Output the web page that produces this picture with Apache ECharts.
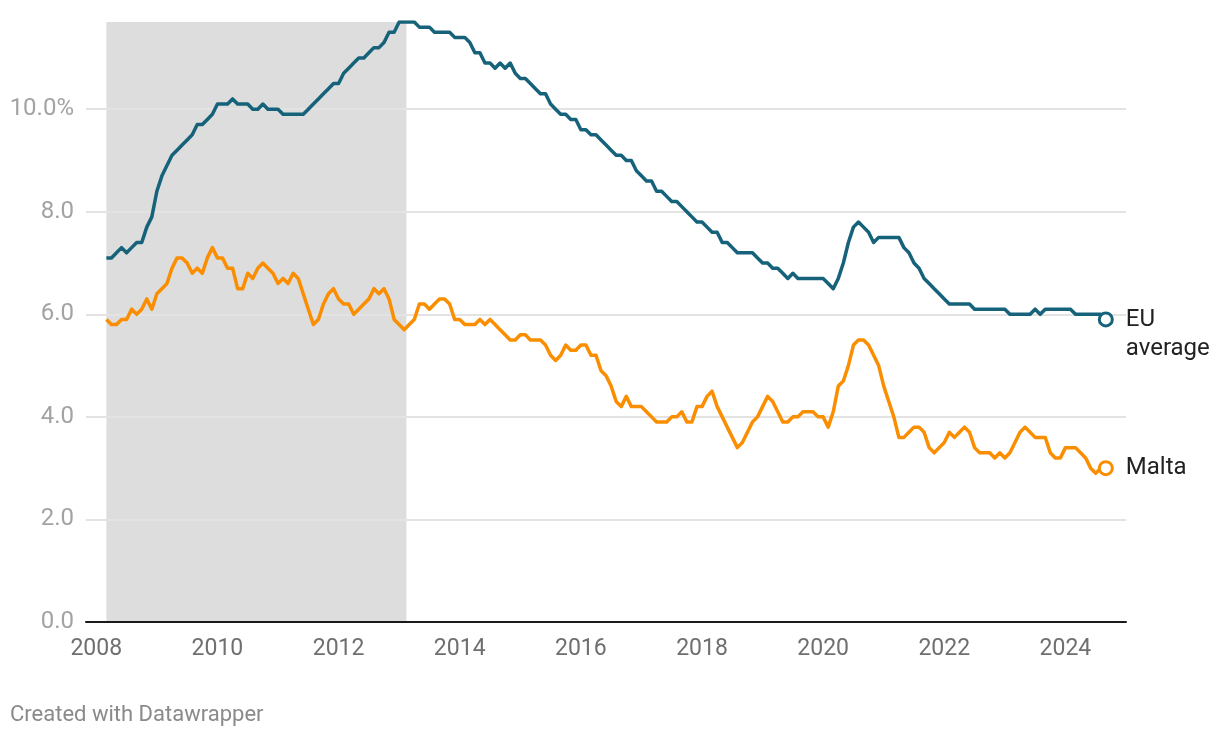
<!DOCTYPE html>
<html>
<head>
<meta charset="utf-8">
<script src="https://cdn.jsdelivr.net/npm/echarts@6/dist/echarts.min.js"></script>
<style>
  html, body { margin: 0; padding: 0; background: #ffffff; }
  #chart { width: 1220px; height: 738px; }
</style>
</head>
<body>
<div id="chart"></div>
<script>
// ---- data (monthly, Mar 2008 – Sep 2024) ----
const firstYear = 2008;
const firstMonth = 3;

const euAverage = [
  7.1, 7.1, 7.2, 7.3, 7.2, 7.3, 7.4, 7.4, 7.7, 7.9,
  8.4, 8.7, 8.9, 9.1, 9.2, 9.3, 9.4, 9.5, 9.7, 9.7,
  9.8, 9.9, 10.1, 10.1, 10.1, 10.2, 10.1, 10.1, 10.1, 10.0,
  10.0, 10.1, 10.0, 10.0, 10.0, 9.9, 9.9, 9.9, 9.9, 9.9,
  10.0, 10.1, 10.2, 10.3, 10.4, 10.5, 10.5, 10.7, 10.8, 10.9,
  11.0, 11.0, 11.1, 11.2, 11.2, 11.3, 11.5, 11.5, 11.7, 11.7,
  11.7, 11.7, 11.6, 11.6, 11.6, 11.5, 11.5, 11.5, 11.5, 11.4,
  11.4, 11.4, 11.3, 11.1, 11.1, 10.9, 10.9, 10.8, 10.9, 10.8,
  10.9, 10.7, 10.6, 10.6, 10.5, 10.4, 10.3, 10.3, 10.1, 10.0,
  9.9, 9.9, 9.8, 9.8, 9.6, 9.6, 9.5, 9.5, 9.4, 9.3,
  9.2, 9.1, 9.1, 9.0, 9.0, 8.8, 8.7, 8.6, 8.6, 8.4,
  8.4, 8.3, 8.2, 8.2, 8.1, 8.0, 7.9, 7.8, 7.8, 7.7,
  7.6, 7.6, 7.4, 7.4, 7.3, 7.2, 7.2, 7.2, 7.2, 7.1,
  7.0, 7.0, 6.9, 6.9, 6.8, 6.7, 6.8, 6.7, 6.7, 6.7,
  6.7, 6.7, 6.7, 6.6, 6.5, 6.7, 7.0, 7.4, 7.7, 7.8,
  7.7, 7.6, 7.4, 7.5, 7.5, 7.5, 7.5, 7.5, 7.3, 7.2,
  7.0, 6.9, 6.7, 6.6, 6.5, 6.4, 6.3, 6.2, 6.2, 6.2,
  6.2, 6.2, 6.1, 6.1, 6.1, 6.1, 6.1, 6.1, 6.1, 6.0,
  6.0, 6.0, 6.0, 6.0, 6.1, 6.0, 6.1, 6.1, 6.1, 6.1,
  6.1, 6.1, 6.0, 6.0, 6.0, 6.0, 6.0, 6.0, 5.9
];

const malta = [
  5.9, 5.8, 5.8, 5.9, 5.9, 6.1, 6.0, 6.1, 6.3, 6.1,
  6.4, 6.5, 6.6, 6.9, 7.1, 7.1, 7.0, 6.8, 6.9, 6.8,
  7.1, 7.3, 7.1, 7.1, 6.9, 6.9, 6.5, 6.5, 6.8, 6.7,
  6.9, 7.0, 6.9, 6.8, 6.6, 6.7, 6.6, 6.8, 6.7, 6.4,
  6.1, 5.8, 5.9, 6.2, 6.4, 6.5, 6.3, 6.2, 6.2, 6.0,
  6.1, 6.2, 6.3, 6.5, 6.4, 6.5, 6.3, 5.9, 5.8, 5.7,
  5.8, 5.9, 6.2, 6.2, 6.1, 6.2, 6.3, 6.3, 6.2, 5.9,
  5.9, 5.8, 5.8, 5.8, 5.9, 5.8, 5.9, 5.8, 5.7, 5.6,
  5.5, 5.5, 5.6, 5.6, 5.5, 5.5, 5.5, 5.4, 5.2, 5.1,
  5.2, 5.4, 5.3, 5.3, 5.4, 5.4, 5.2, 5.2, 4.9, 4.8,
  4.6, 4.3, 4.2, 4.4, 4.2, 4.2, 4.2, 4.1, 4.0, 3.9,
  3.9, 3.9, 4.0, 4.0, 4.1, 3.9, 3.9, 4.2, 4.2, 4.4,
  4.5, 4.2, 4.0, 3.8, 3.6, 3.4, 3.5, 3.7, 3.9, 4.0,
  4.2, 4.4, 4.3, 4.1, 3.9, 3.9, 4.0, 4.0, 4.1, 4.1,
  4.1, 4.0, 4.0, 3.8, 4.1, 4.6, 4.7, 5.0, 5.4, 5.5,
  5.5, 5.4, 5.2, 5.0, 4.6, 4.3, 4.0, 3.6, 3.6, 3.7,
  3.8, 3.8, 3.7, 3.4, 3.3, 3.4, 3.5, 3.7, 3.6, 3.7,
  3.8, 3.7, 3.4, 3.3, 3.3, 3.3, 3.2, 3.3, 3.2, 3.3,
  3.5, 3.7, 3.8, 3.7, 3.6, 3.6, 3.6, 3.3, 3.2, 3.2,
  3.4, 3.4, 3.4, 3.3, 3.2, 3.0, 2.9, 3.0, 3.0
];

const xTickLabels = [2008, 2010, 2012, 2014, 2016, 2018, 2020, 2022, 2024];
const yTickValues = [0, 2, 4, 6, 8, 10];
const shadeRange = [2008 + 2 / 12, 2013.12];
const seriesNames = ['EU average', 'Malta'];
const endLabelTexts = ['EU\naverage', 'Malta'];

// month positions (decimal years)
const dates = euAverage.map((_, i) => firstYear + (firstMonth - 1 + i) / 12);
const toPairs = arr => arr.map((v, i) => [dates[i], v]);

const EU_COLOR = '#15627a';
const MT_COLOR = '#fa8e00';
const FONT = 'Roboto, "Noto Sans", sans-serif';

function lineSeries(name, values, color, labelText, labelOffsetY, labelVAlign) {
  const last = values.length - 1;
  return {
    name: name,
    type: 'line',
    z: 5,
    data: toPairs(values),
    showSymbol: true,
    showAllSymbol: true,
    symbol: (val, params) => (params.dataIndex === last ? 'circle' : 'none'),
    symbolSize: 13,
    lineStyle: { color: color, width: 3.5, join: 'round' },
    itemStyle: { color: '#ffffff', borderColor: color, borderWidth: 3 },
    emphasis: { disabled: true },
    animation: false,
    endLabel: {
      show: true,
      formatter: labelText,
      color: '#222222',
      fontFamily: FONT,
      fontSize: 24,
      lineHeight: 29,
      distance: 20,
      verticalAlign: labelVAlign,
      offset: [0, labelOffsetY]
    }
  };
}

const chart = echarts.init(document.getElementById('chart'), null, { renderer: 'canvas' });

chart.setOption({
  backgroundColor: '#ffffff',
  animation: false,
  grid: { left: 86, right: 94, top: 22, bottom: 116, containLabel: false },
  xAxis: {
    type: 'value',
    min: 2007.83,
    max: 2025.0,
    z: 10,
    axisLine: { show: true, onZero: false, lineStyle: { color: '#1a1a1a', width: 2 } },
    axisTick: { show: false },
    splitLine: { show: false },
    axisLabel: {
      customValues: xTickLabels,
      color: '#6f6f6f',
      fontFamily: FONT,
      fontSize: 23,
      margin: 16,
      formatter: v => String(v)
    }
  },
  yAxis: {
    type: 'value',
    min: 0,
    max: 'dataMax',
    axisLine: { show: false },
    axisTick: { show: false },
    splitLine: { show: false },
    axisLabel: {
      customValues: yTickValues,
      color: '#a3a3a3',
      fontFamily: FONT,
      fontSize: 24,
      margin: 12,
      formatter: v => (v === yTickValues[yTickValues.length - 1] ? v.toFixed(1) + '%' : v.toFixed(1))
    }
  },
  series: [
    {
      name: 'shade',
      type: 'line',
      z: 1,
      data: [],
      silent: true,
      markArea: {
        silent: true,
        itemStyle: { color: '#dddddd' },
        data: [[{ xAxis: shadeRange[0] }, { xAxis: shadeRange[1] }]]
      }
    },
    {
      name: 'grid',
      type: 'line',
      z: 2,
      data: [],
      silent: true,
      markLine: {
        silent: true,
        symbol: ['none', 'none'],
        label: { show: false },
        lineStyle: { color: '#e3e3e3', width: 2, type: 'solid' },
        data: yTickValues.filter(v => v !== 0).map(v => ({ yAxis: v }))
      }
    },
    lineSeries(seriesNames[0], euAverage, EU_COLOR, endLabelTexts[0], -14, 'top'),
    lineSeries(seriesNames[1], malta, MT_COLOR, endLabelTexts[1], 0, 'middle')
  ],
  graphic: [
    {
      type: 'text',
      left: 10,
      top: 704,
      style: {
        text: 'Created with Datawrapper',
        fill: '#8a8a8a',
        font: '22px ' + FONT
      }
    }
  ]
});
</script>
</body>
</html>
